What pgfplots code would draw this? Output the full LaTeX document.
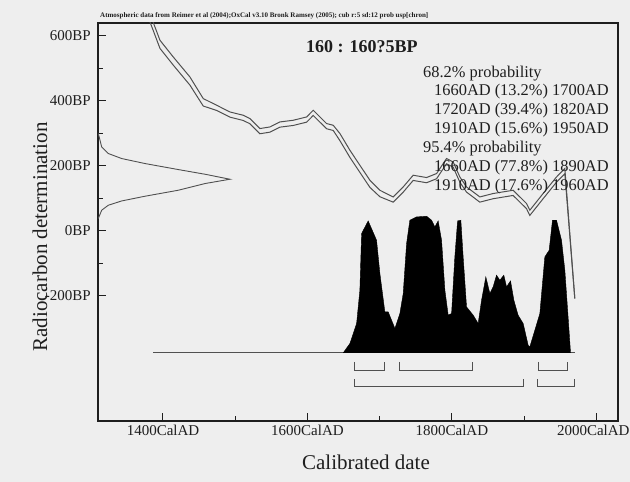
\documentclass[border=0pt]{standalone}
\usepackage{fontspec}
\setmainfont{Liberation Serif}
\usepackage{pgfplots}
\pgfplotsset{compat=1.18}
\definecolor{bg}{RGB}{238,238,238}
\definecolor{ink}{RGB}{30,30,30}
\definecolor{curve}{RGB}{80,80,80}
\begin{document}
\begin{tikzpicture}[x=1pt,y=1pt]
\useasboundingbox (0,0) rectangle (630,482);
\fill[bg] (0,0) rectangle (630,482);
\begin{axis}[
  at={(98pt,61pt)}, anchor=south west,
  scale only axis, width=520pt, height=398pt,
  xmin=1310, xmax=2030, ymin=-585, ymax=640,
  axis line style={ink, line width=1.1pt},
  xtick={1400,1600,1800,2000},
  xticklabels={1400CalAD,1600CalAD,1800CalAD,\hspace*{-6pt}2000CalAD},
  minor xtick={1500,1700,1900},
  ytick={-200,0,200,400,600},
  yticklabels={-200BP,0BP,200BP,400BP,600BP},
  minor ytick={-100,100,300,500},
  xtick pos=left, ytick pos=left,
  tick align=inside,
  major tick length=8pt, minor tick length=5pt,
  tick style={ink, line width=1pt},
  xticklabel style={font=\fontsize{15}{18}\selectfont, anchor=base, yshift=-15pt, text=ink},
  yticklabel style={font=\fontsize{15}{18}\selectfont, anchor=east, inner sep=0pt, xshift=-7pt, text=ink},
]
% radiocarbon measurement distribution on the y axis
\addplot[curve, line width=0.9pt] coordinates {
(1310.4,299.7) (1315.1,258.5) (1324.3,238.2) (1342.8,222.8) (1375.1,207.4) (1421.1,188.9) (1458.1,174.5) (1492.7,159.1)
(1458.1,145.8) (1421.1,125.2) (1375.1,106.8) (1342.8,92.3) (1324.3,79.1) (1315.1,63.7) (1310.4,38.2)};
% calibration curve (upper and lower)
\addplot[curve, line width=1pt] coordinates {
(1380,680) (1395.8,586.8) (1414.2,535.4) (1437.3,473.8) (1455.7,407.4) (1474.3,386.8) (1492.7,366.2) (1511.1,356) (1520.4,345.8) (1534.2,315.1) (1548.1,320) (1561.9,335.4) (1580.3,340.6) (1598.9,350.8) (1608,371.4) (1617.3,350.8) (1626.5,330.5) (1635.7,325.2) (1645,299.7) (1658.8,248.3) (1672.6,202.2) (1686.5,156) (1700.3,125.2) (1718.7,104.6) (1732.6,135.4) (1746.4,171.4) (1765,164.3) (1778.8,176.6) (1792.6,222.8) (1801.8,212.3) (1811,166.2) (1820.3,135.4) (1838.7,104.6) (1857.1,115.1) (1884.8,125.2) (1903.4,84.3) (1907.9,63.7) (1926.3,115.1) (1944.9,166.2) (1956.4,192) (1970.2,-208)};
\addplot[curve, line width=1pt] coordinates {
(1380,655) (1395.8,561.8) (1414.2,510.4) (1437.3,448.8) (1455.7,384.4) (1474.3,370.8) (1492.7,350.2) (1511.1,340) (1520.4,329.8) (1534.2,299.1) (1548.1,304) (1561.9,319.4) (1580.3,324.6) (1598.9,334.8) (1608,355.4) (1617.3,334.8) (1626.5,314.5) (1635.7,309.2) (1645,277.7) (1658.8,226.3) (1672.6,180.2) (1686.5,134) (1700.3,105.2) (1718.7,88.6) (1732.6,119.4) (1746.4,155.4) (1765,148.3) (1778.8,160.6) (1792.6,206.8) (1801.8,196.3) (1811,150.2) (1820.3,119.4) (1838.7,88.6) (1857.1,99.1) (1884.8,109.2) (1903.4,68.3) (1907.9,47.7) (1926.3,99.1) (1944.9,150.2) (1956.4,176) (1970.2,-208)};
% baseline of calibrated distribution
\addplot[curve, line width=1pt] coordinates {(1386.5,-375.4) (1970.2,-375.4)};
% calibrated probability distribution
\addplot[fill=black, draw=black, line width=0.4pt] coordinates {
(1649.5,-375.4) (1658.8,-346.5) (1668.1,-284.9) (1672.6,-182.5) (1675,-8) (1684.1,30.8) (1695.7,-28.6) (1700.3,-131.1) (1707.2,-249.2) (1711.8,-249.2) (1716.5,-274.8) (1721.1,-300.3) (1728,-254.2) (1732.6,-192.6) (1737.3,-38.8) (1741.8,32.9) (1751.1,43.1) (1765,45.2) (1771.9,32.9) (1776.4,12.3) (1781,30.8) (1785.7,-28.6) (1790.3,-182.5) (1794.9,-259.4) (1799.6,-254.2) (1804.1,-80) (1807.9,30.8) (1812.4,32.9) (1815.6,-80) (1820.3,-233.8) (1829.5,-259.4) (1836.4,-284.9) (1841.1,-213.2) (1847,-141.5) (1852.6,-192.6) (1857.1,-172.3) (1861.8,-136.3) (1866.4,-151.7) (1871.9,-136.3) (1875.7,-172.3) (1881.2,-153.8) (1885.8,-213.2) (1891.7,-259.4) (1898.7,-284.9) (1905.6,-351.7) (1907.9,-356.9) (1914.9,-305.5) (1921.8,-254.2) (1928.7,-80) (1934.7,-59.4) (1939.3,32.9) (1944.9,32.9) (1951.8,-28.6) (1956.4,-120.9) (1960.9,-264.6) (1964.3,-375.4)};
% 68.2% ranges
\addplot[curve, line width=0.9pt] coordinates {(1665.7,-403) (1665.7,-428.6) (1707.2,-428.6) (1707.2,-403)};
\addplot[curve, line width=0.9pt] coordinates {(1727,-403) (1727,-428.6) (1828.6,-428.6) (1828.6,-403)};
\addplot[curve, line width=0.9pt] coordinates {(1919.4,-403) (1919.4,-428.6) (1959.6,-428.6) (1959.6,-403)};
% 95.4% ranges
\addplot[curve, line width=0.9pt] coordinates {(1665.7,-457) (1665.7,-480) (1899.6,-480) (1899.6,-457)};
\addplot[curve, line width=0.9pt] coordinates {(1918,-457) (1918,-480) (1970.2,-480) (1970.2,-457)};
\end{axis}
% texts
\node[anchor=base west, inner sep=0pt, text=ink, font=\bfseries\fontsize{7}{8}\selectfont] at (100,464.5) {Atmospheric data from Reimer et al (2004);OxCal v3.10 Bronk Ramsey (2005); cub r:5 sd:12 prob usp[chron]};
\node[anchor=base west, inner sep=0pt, text=ink, font=\bfseries\fontsize{18}{21}\selectfont] at (306,429) {160 : 160?5BP};
\begin{scope}[every node/.style={anchor=base west, inner sep=0pt, text=ink, font=\fontsize{16.4}{19}\selectfont}]
\node at (423,404.7) {68.2\% probability};
\node at (434,386) {1660AD (13.2\%) 1700AD};
\node at (434,367) {1720AD (39.4\%) 1820AD};
\node at (434,348.7) {1910AD (15.6\%) 1950AD};
\node at (423,329.3) {95.4\% probability};
\node at (434,310.3) {1660AD (77.8\%) 1890AD};
\node at (434,291.3) {1910AD (17.6\%) 1960AD};
\end{scope}
\node[rotate=90, text=ink, font=\fontsize{21}{25}\selectfont] at (40,245) {Radiocarbon determination};
\node[text=ink, font=\fontsize{21}{25}\selectfont] at (366,20) {Calibrated date};
\end{tikzpicture}
\end{document}
